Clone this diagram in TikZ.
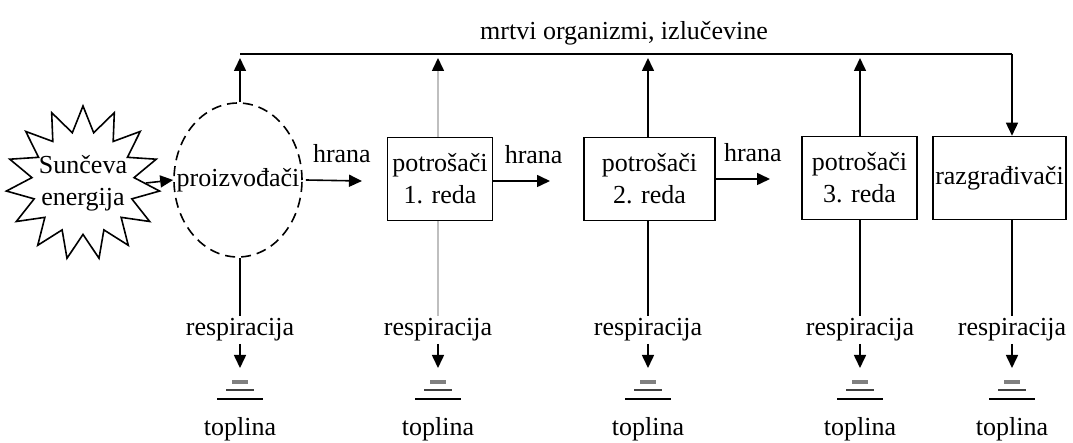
\documentclass[tikz,border=0pt]{standalone}
\usepackage{fontspec}
\setmainfont{Liberation Serif}
\usepackage{tikz}
\usetikzlibrary{shapes.geometric,arrows.meta,positioning}
\tikzstyle{sunce} = [star, star points=15, star point ratio=1.5, draw, thick, minimum size=77pt, inner sep=0pt]
\tikzstyle{prod} = [ellipse, draw, thick, dash pattern=on 5pt off 3pt, minimum width=64pt, minimum height=77pt, inner sep=0pt]
\tikzstyle{trophic} = [rectangle, draw, thick, minimum height=41.5pt, align=center, inner sep=1pt]
\tikzstyle{textonly} = [draw=none, fill=none, text centered, inner sep=1pt]
\tikzstyle{tedge}  = [draw, thick, -{Triangle[length=6.5pt,width=6pt,color=black]}]
\tikzstyle{heat} = [draw, line width=1.3pt]

\begin{document}
\begin{tikzpicture}[x=0.5pt, y=-0.5pt, font=\fontsize{13}{16}\selectfont]
\useasboundingbox (0,0) rectangle (1073,443);

% levels =============================
\node[sunce, label={[textonly, align=center]center:Sunčeva\\energija}] (sun) at (83,183) {};
\node[prod, label={[textonly]center:proizvođači}] (proizv) at (238,180) {};
\node[trophic, minimum width=52.5pt] (pot1) at (440,179) {potrošači\\1. reda};
\node[trophic, minimum width=65.5pt] (pot2) at (649.5,179) {potrošači\\2. reda};
\node[trophic, minimum width=57.5pt] (pot3) at (859.5,178) {potrošači\\3. reda};
\node[trophic, minimum width=62.5pt] (razgr) at (999.5,178) {razgrađivači};

\coordinate (topL) at (240,54);
\coordinate (topR) at (1012,54);
\node[textonly, above=3pt] (mrtvi) at (624,54) {mrtvi organizmi, izlučevine};

% edges
\draw[thick] (topL) -- (topR);
\draw[tedge] (sun.east) -- (proizv.west);
\draw[tedge] (proizv.north -| topL) -- ([yshift=-2pt]topL);
\draw[tedge, gray!50] (pot1.north -| 438,0) -- (438,58);
\draw[tedge] (pot2.north -| 648,0) -- (648,58);
\draw[tedge] (pot3.north -| 860,0) -- (860,58);
\draw[tedge] (topR) -- (topR |- razgr.north);
\path[tedge] ([xshift=1.5pt]proizv.east) -- (362,181) node[midway, above=5pt, xshift=4pt] {hrana};
\path[tedge] (pot1.east |- 0,181) -- (550,181) node[midway, above=5pt, xshift=6pt] {hrana};
\path[tedge] (pot2.east |- 0,179) -- (770,179) node[midway, above=5pt, xshift=5pt] {hrana};

% respiracija
\foreach \n/\x/\c in {proizv/240/black, pot1/438/gray!50, pot2/648/black, pot3/860/black, razgr/1012/black} {
  \node[textonly] (resp-\n) at (\x,330) {respiracija};
  \node[textonly] (topl-\n) at (\x,429) {toplina};
  \draw[thick, \c] (\n.south -| \x,0) -- (resp-\n.north);
  \draw[tedge] (resp-\n.south) -- (\x,368);
  \draw[heat, line width=1.6pt, gray] (\x-8,382) -- (\x+8,382);
  \draw[heat, darkgray] (\x-14,390) -- (\x+14,390);
  \draw[heat] (\x-23,399) -- (\x+23,399);
}

\end{tikzpicture}
\end{document}
